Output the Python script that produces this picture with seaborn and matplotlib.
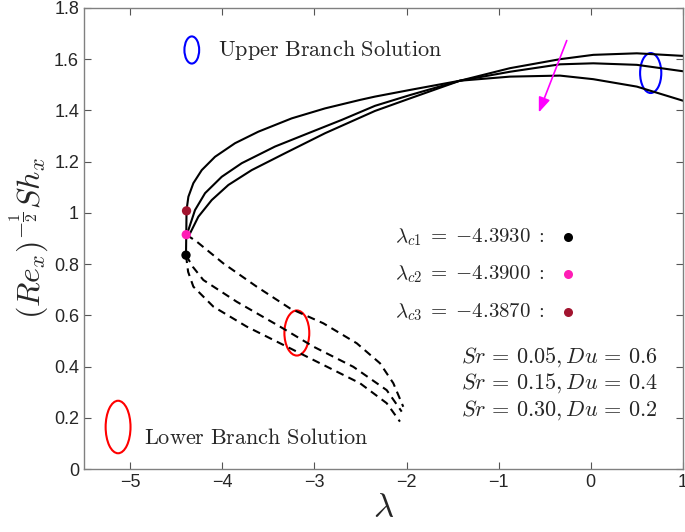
import numpy as np
import pandas as pd
import matplotlib
matplotlib.use("Agg")
import matplotlib.pyplot as plt
from matplotlib.patches import Ellipse
import seaborn as sns

# upper branch (solid) curves
upper_c1_x = [-4.393, -4.390, -4.349, -4.259, -4.114, -3.933, -3.680, -3.318, -2.884,
              -2.342, -1.962, -1.42, -0.877, -0.335, 0.027, 0.50, 1.0]
upper_c1_y = [0.835, 0.915, 0.920, 0.985, 1.050, 1.109, 1.167, 1.233, 1.311,
              1.398, 1.447, 1.516, 1.565, 1.600, 1.617, 1.623, 1.613]
upper_c2_x = [-4.390, -4.367, -4.295, -4.186, -4.005, -3.788, -3.427, -3.066, -2.703,
              -2.342, -1.962, -1.42, -0.877, -0.335, 0.027, 0.50, 1.0]
upper_c2_y = [0.915, 0.933, 1.011, 1.077, 1.141, 1.194, 1.259, 1.311, 1.363,
              1.418, 1.460, 1.516, 1.551, 1.580, 1.584, 1.578, 1.553]
upper_c3_x = [-4.390, -4.387, -4.367, -4.313, -4.222, -4.078, -3.861, -3.608, -3.246, -2.884,
              -2.505, -2.342, -1.962, -1.42, -0.877, -0.335, 0.027, 0.50, 1.0]
upper_c3_y = [0.915, 1.011, 1.063, 1.116, 1.167, 1.219, 1.272, 1.317, 1.369, 1.408,
              1.441, 1.454, 1.480, 1.516, 1.532, 1.536, 1.522, 1.493, 1.438]

# lower branch (dashed) curves
lower_c1_x = [-4.393, -4.37, -4.313, -4.096, -3.734, -3.300, -2.939, -2.505, -2.215, -2.071]
lower_c1_y = [0.835, 0.770, 0.712, 0.634, 0.556, 0.478, 0.413, 0.335, 0.257, 0.185]
lower_c2_x = [-4.393, -4.32, -4.205, -3.842, -3.373, -3.011, -2.577, -2.215, -2.052]
lower_c2_y = [0.835, 0.790, 0.738, 0.653, 0.556, 0.478, 0.399, 0.308, 0.224]
lower_c3_x = [-4.390, -4.277, -3.988, -3.626, -3.264, -2.903, -2.540, -2.288, -2.143, -2.035]
lower_c3_y = [0.915, 0.888, 0.803, 0.712, 0.627, 0.569, 0.491, 0.413, 0.335, 0.243]

# critical points
crit_x = [-4.393, -4.390, -4.387]
crit_y = [0.835, 0.915, 1.008]
crit_labels = [r"$\lambda_{c1}\;=\;{-}4.3930\;:$", r"$\lambda_{c2}\;=\;{-}4.3900\;:$",
               r"$\lambda_{c3}\;=\;{-}4.3870\;:$"]
crit_colors = ["#000000", "#FF1DB5", "#A2142F"]

param_labels = [r"$Sr\,=\,0.05, Du\,=\,0.6$", r"$Sr\,=\,0.15, Du\,=\,0.4$",
                r"$Sr\,=\,0.30, Du\,=\,0.2$"]

sns.set_style("ticks")
plt.rcParams["mathtext.fontset"] = "cm"
plt.rcParams["font.family"] = ["Liberation Sans", "DejaVu Sans"]

fig = plt.figure(figsize=(6.85, 5.32), dpi=100)
ax = fig.add_axes([0.1226, 0.1184, 0.8744, 0.8666])

for xs, ys in [(upper_c1_x, upper_c1_y), (upper_c2_x, upper_c2_y), (upper_c3_x, upper_c3_y)]:
    sns.lineplot(x=xs, y=ys, sort=False, estimator=None, color="black", linewidth=1.5, ax=ax)
for xs, ys in [(lower_c1_x, lower_c1_y), (lower_c2_x, lower_c2_y), (lower_c3_x, lower_c3_y)]:
    sns.lineplot(x=xs, y=ys, sort=False, estimator=None, color="black", linewidth=1.5,
                 ax=ax).lines[-1].set_dashes([3.8, 2.6])

sns.scatterplot(x=crit_x, y=crit_y, hue=crit_labels, palette=crit_colors, s=45,
                edgecolor="none", legend=False, ax=ax, zorder=5)

# dot key
key_y = [0.906, 0.761, 0.613]
for lab, col, ky in zip(crit_labels, crit_colors, key_y):
    ax.text(-0.50, ky, lab, fontsize=15, ha="right", va="center")
    ax.plot(-0.25, ky, "o", color=col, markersize=6.5, markeredgewidth=0)

for lab, py in zip(param_labels, [0.437, 0.336, 0.230]):
    ax.text(0.73, py, lab, fontsize=16, ha="right", va="center")

# branch markers
ax.add_patch(Ellipse((0.65, 1.546), 0.23, 0.156, fill=False, edgecolor="blue", linewidth=1.5))
ax.add_patch(Ellipse((-3.19, 0.531), 0.27, 0.176, fill=False, edgecolor="red", linewidth=1.5))
ax.add_patch(Ellipse((-4.33, 1.636), 0.16, 0.106, fill=False, edgecolor="blue", linewidth=1.5))
ax.add_patch(Ellipse((-5.13, 0.164), 0.27, 0.205, fill=False, edgecolor="red", linewidth=1.5))
ax.text(-4.05, 1.636, r"$\mathrm{Upper\ Branch\ Solution}$", fontsize=16, va="center")
ax.text(-4.85, 0.121, r"$\mathrm{Lower\ Branch\ Solution}$", fontsize=16, va="center")

ax.annotate("", xy=(-0.575, 1.382), xytext=(-0.25, 1.683),
            arrowprops=dict(arrowstyle="-|>,head_length=0.9,head_width=0.35", color="#FF00FF", lw=1.2))

ax.set_xlim(-5.5, 1)
ax.set_ylim(0, 1.8)
ax.set_xticks([-5, -4, -3, -2, -1, 0, 1])
ax.set_yticks(np.arange(0, 1.81, 0.2))
ax.set_yticklabels(["0", "0.2", "0.4", "0.6", "0.8", "1", "1.2", "1.4", "1.6", "1.8"])
ax.tick_params(direction="in", top=True, right=True, labelsize=13, length=5, color="#555555",
               labelcolor="#262626", width=0.8)
for sp in ax.spines.values():
    sp.set_visible(True)
    sp.set_color("#808080")
    sp.set_linewidth(1.0)

ax.set_xlabel(r"$\lambda$", fontsize=25, labelpad=0)
ax.set_ylabel(r"$(Re_x)^{-\frac{1}{2}}Sh_x$", fontsize=23, labelpad=2)

fig.savefig("out.png", dpi=100)
